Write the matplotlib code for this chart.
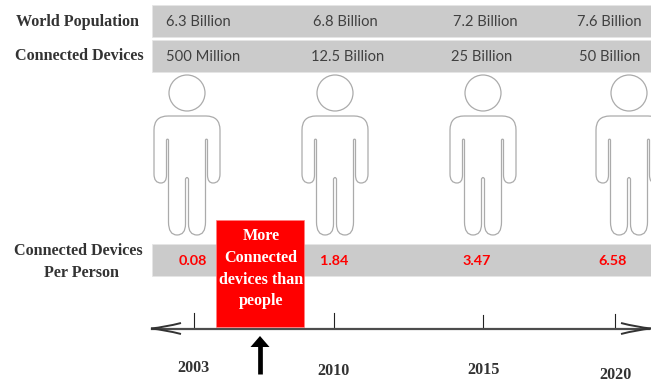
import matplotlib
matplotlib.use('Agg')
import matplotlib.pyplot as plt
from matplotlib.patches import Circle, PathPatch, Polygon, Rectangle
from matplotlib.path import Path

years = ['2003', '2010', '2015', '2020']
world_population = ['6.3 Billion', '6.8 Billion', '7.2 Billion', '7.6 Billion']
connected_devices = ['500 Million', '12.5 Billion', '25 Billion', '50 Billion']
devices_per_person = ['0.08', '1.84', '3.47', '6.58']

# layout, in pixels from the top left corner
PERSON_X = [187, 335, 483, 629]
POP_X = [198, 345, 485, 609]
DEV_X = [203, 348, 482, 610]
RATIO_X = [193, 334, 477, 613]
TICK_X = [194, 334, 483, 615]
TICK_TOP = [313, 313, 315, 314]
YEAR_X = [194, 334, 484, 616]
YEAR_Y = [368, 371, 370, 375]

GREY = '#cbcbcb'
OUTLINE = '#ababab'
INK = '#333333'
RED = '#ff0000'
SERIF = 'Liberation Serif'
SANS = 'Lato'


def half_body(sign):
    # one side of the figure, from the shoulder down to the crotch slit
    s = sign
    return [
        (Path.LINETO, (s * 19, 116)),
        (Path.CURVE3, (s * 33, 116)),
        (Path.CURVE3, (s * 33, 130)),
        (Path.LINETO, (s * 33, 174)),
        (Path.CURVE3, (s * 33, 183)),
        (Path.CURVE3, (s * 26, 183)),
        (Path.CURVE3, (s * 20.5, 183)),
        (Path.CURVE3, (s * 20.5, 175)),
        (Path.LINETO, (s * 20.5, 140)),
        (Path.CURVE3, (s * 19.5, 138)),
        (Path.CURVE3, (s * 18.5, 140)),
        (Path.LINETO, (s * 18.5, 222)),
        (Path.CURVE3, (s * 18.5, 235)),
        (Path.CURVE3, (s * 10, 235)),
        (Path.CURVE3, (s * 1.5, 235)),
        (Path.CURVE3, (s * 1.5, 224)),
        (Path.LINETO, (s * 1.5, 179)),
    ]


def draw_person(ax, cx):
    ax.add_patch(Circle((cx, 93), 18, fill=False, ec=OUTLINE, lw=0.9))
    right = half_body(1)
    left = half_body(-1)
    # walk down the right side, then back up the left one
    steps = [(Path.MOVETO, (-19, 116))] + right
    steps += [(Path.CURVE3, (0, 176)), (Path.CURVE3, (-1.5, 179))]
    back = [p for _, p in left][::-1][1:]
    codes = [c for c, _ in left][::-1]
    # codes shift by one when a path is reversed
    steps += [(c, p) for c, p in zip(codes[:-1], back)]
    verts = [(cx + x, y) for _, (x, y) in steps]
    ax.add_patch(PathPatch(Path(verts, [c for c, _ in steps]), fill=False,
                           ec=OUTLINE, lw=0.9, joinstyle='round'))


def open_arrowhead(ax, tip, direction):
    # two long barbs bowing into the timeline
    back = tip - direction * 30
    for dy in (-5.5, 5.5):
        verts = [(back, 328.5 + dy), (tip - direction * 14, 328.5 + dy * 0.25), (tip, 328.5)]
        codes = [Path.MOVETO, Path.CURVE3, Path.CURVE3]
        ax.add_patch(PathPatch(Path(verts, codes), fill=False, ec='#333333', lw=1.4, zorder=2))


def main():
    fig = plt.figure(figsize=(6.51, 3.83), dpi=100)
    ax = fig.add_axes([0, 0, 1, 1])
    ax.set_xlim(0, 651)
    ax.set_ylim(383, 0)
    ax.axis('off')

    # grey bands behind the figures
    for top, height in [(5, 32), (39.5, 32), (244, 32)]:
        ax.add_patch(Rectangle((152, top), 499, height, fc=GREY, ec='#e6e6e6', lw=0.6))

    for label, x, y in [('World Population', 77.5, 22), ('Connected Devices', 79, 56),
                        ('Connected Devices', 78.5, 251), ('Per Person', 81, 273)]:
        ax.text(x, y, label, family=SERIF, weight='bold', fontsize=11.6,
                color=INK, ha='center', va='center')

    for i in range(len(years)):
        ax.text(POP_X[i], 22, world_population[i], family=SANS, fontsize=10.6,
                color='#404040', ha='center', va='center')
        ax.text(DEV_X[i], 57, connected_devices[i], family=SANS, fontsize=10.6,
                color='#404040', ha='center', va='center')
        ax.text(RATIO_X[i], 261, devices_per_person[i], family=SANS, weight='bold',
                fontsize=10.4, color=RED, ha='center', va='center')
        draw_person(ax, PERSON_X[i])
        ax.plot([TICK_X[i], TICK_X[i]], [TICK_TOP[i], 328], color='#222222', lw=0.8)
        ax.text(YEAR_X[i], YEAR_Y[i], years[i], family=SERIF, weight='bold',
                fontsize=11.6, color=INK, ha='center', va='center')

    # callout box sits on top of the third band
    ax.add_patch(Rectangle((216, 220), 88, 107, fc=RED, ec='#ff8080', lw=0.5, zorder=3))
    for line, y in [('More', 236.5), ('Connected', 257.5), ('devices than', 279.5), ('people', 301)]:
        ax.text(261, y, line, family=SERIF, weight='bold', fontsize=11.6, color='white',
                ha='center', va='center', zorder=4)

    # timeline
    ax.plot([152, 649], [328.5, 328.5], color='#4d4d4d', lw=1.6, zorder=2)
    open_arrowhead(ax, 151, -1)
    open_arrowhead(ax, 651, 1)

    # marker under the callout
    ax.plot([260, 260], [346, 374], color='black', lw=3.4, solid_capstyle='butt')
    ax.add_patch(Polygon([(260, 336), (269.5, 347), (250.5, 347)], fc='black', ec='none'))

    fig.savefig('out.png', dpi=100)


if __name__ == '__main__':
    main()
